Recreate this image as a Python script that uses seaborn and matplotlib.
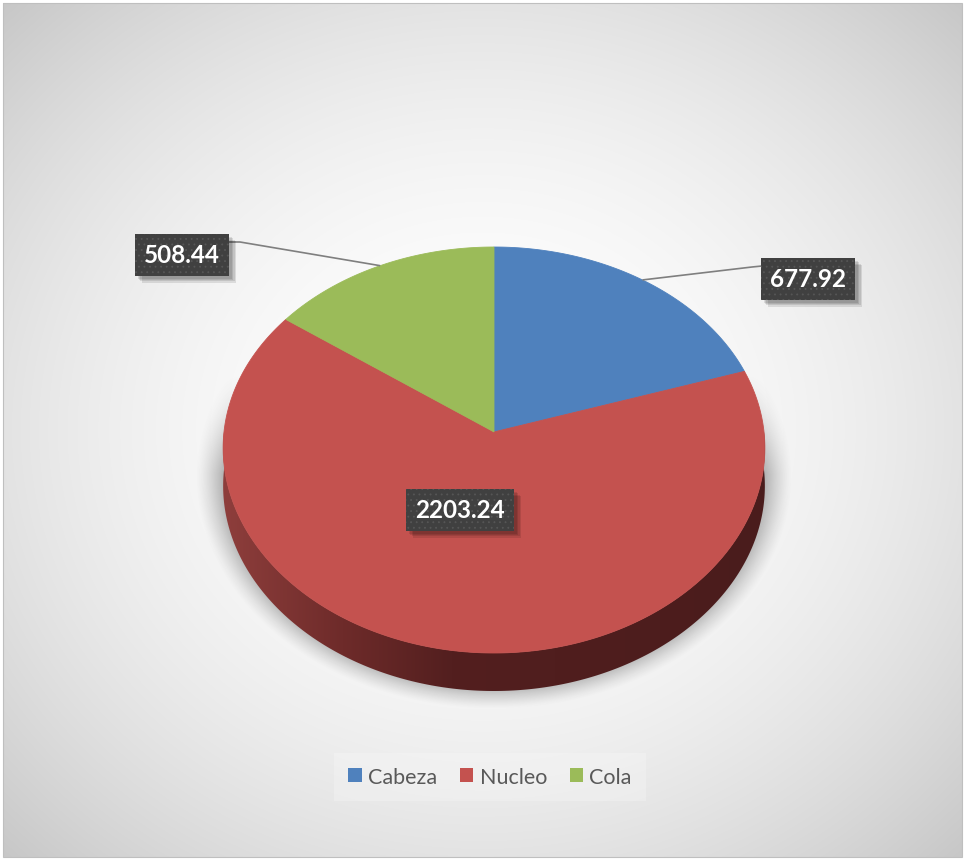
import numpy as np
import matplotlib
matplotlib.use("Agg")
import matplotlib.pyplot as plt
import matplotlib.transforms as mtransforms
import matplotlib.patheffects as pe
from matplotlib.path import Path
from matplotlib.patches import Patch, Polygon, Rectangle
from matplotlib.colors import LinearSegmentedColormap
import seaborn as sns

# ---- data -------------------------------------------------------------
categories = ["Cabeza", "Nucleo", "Cola"]
values = [677.92, 2203.24, 508.44]
slice_colors = ["#4f81bd", "#c4524f", "#9bbb59"]
value_labels = [f"{v:.2f}" for v in values]

# ---- canvas / disc geometry (pixel units) ----------------------------
W, H = 964, 862
CX, CY, RX, RY = 494.0, 451.0, 270.0, 203.0
DEPTH = 38.0        # thickness of the extruded side
TILT = -0.089       # pulls the apex toward the far rim (perspective)
TAPER = 0.08        # far rim drawn slightly narrower


class TiltedDisc(mtransforms.Transform):
    """Maps the unit pie disc onto a tilted disc seen in perspective."""
    input_dims = output_dims = 2
    is_separable = False
    has_inverse = False

    def transform_non_affine(self, xy):
        xy = np.asarray(xy, float).reshape(-1, 2)
        u, w = xy[:, 0], -xy[:, 1]
        x = CX + RX * u * (1 + TAPER * w)
        y = CY + RY * (w + TILT) / (1 + TILT * w)
        return np.column_stack([x, y])

    def transform_path_non_affine(self, path):
        verts, codes = [], []
        for seg, code in path.iter_bezier(simplify=False):
            if code == Path.MOVETO:
                pts = seg.control_points[:1]
                codes.append(Path.MOVETO)
            else:
                pts = seg(np.linspace(0, 1, 41)[1:])
                codes.extend([Path.LINETO] * len(pts))
            verts.append(pts)
        verts = np.concatenate(verts)
        return Path(self.transform_non_affine(verts), codes)


class SoftBoxShadow(pe.AbstractPathEffect):
    """Blurred-looking drop shadow (stacked translucent offsets, no hatch)."""

    def __init__(self, steps=((2, -2), (3, -3), (4, -4), (5, -5)), alpha=0.1):
        super().__init__()
        self._steps = steps
        self._alpha = alpha

    def draw_path(self, renderer, gc, tpath, affine, rgbFace=None):
        for dx, dy in self._steps:
            gc0 = renderer.new_gc()
            gc0.copy_properties(gc)
            gc0.set_hatch(None)
            gc0.set_linewidth(0)
            gc0.set_alpha(self._alpha)
            off = mtransforms.Affine2D().translate(
                renderer.points_to_pixels(dx), renderer.points_to_pixels(dy))
            renderer.draw_path(gc0, tpath, affine + off, (0, 0, 0))
            gc0.restore()


sns.set_theme(style="white")
plt.rcParams["font.family"] = ["Lato", "DejaVu Sans"]
plt.rcParams["hatch.linewidth"] = 0.6
palette = sns.color_palette(slice_colors)

fig = plt.figure(figsize=(W / 100, H / 100), dpi=100)
fig.patch.set_facecolor("white")
ax = fig.add_axes([0, 0, 1, 1])
ax.set_axis_off()

yy, xx = np.mgrid[0:H, 0:W] + 0.5

# chart-area background: radial grey gradient
fx0, fy0, fx1, fy1 = 3, 4, 962, 858
gcx, gcy = (fx0 + fx1) / 2, 431
r2 = (((xx - gcx) / (gcx - fx0)) ** 2 + ((yy - gcy) / (gcy - fy0)) ** 2) / 2
bg = np.clip(1 - 0.22 * r2, 0, 1)
bg_img = ax.imshow(np.dstack([bg, bg, bg]), extent=[0, W, H, 0],
                   aspect="auto", zorder=0, interpolation="bilinear")
frame = Rectangle((fx0, fy0), fx1 - fx0, fy1 - fy0, fill=False,
                  edgecolor="#bfbfbf", linewidth=0.8, zorder=0.5)
ax.add_patch(frame)
bg_img.set_clip_path(frame)

# soft shadow behind the disc
rs = np.sqrt(((xx - CX) / (RX + 28)) ** 2 + ((yy - (CY + 26)) / (RY + 30)) ** 2)
shade = np.clip((1.0 - rs) / 0.10, 0, 1) ** 1.3 * np.clip((yy - 375) / 100, 0, 1)
shadow = np.zeros((H, W, 4))
shadow[..., :3] = 0.38
shadow[..., 3] = 0.5 * shade
ax.imshow(shadow, extent=[0, W, H, 0], aspect="auto", zorder=1,
          interpolation="bilinear")

# ---- pie top face ----------------------------------------------------
wedges, _ = ax.pie(values, colors=palette, startangle=90, counterclock=False,
                   radius=1.0, center=(0, 0),
                   wedgeprops=dict(linewidth=0.6))
tilt = TiltedDisc()
for wdg, col in zip(wedges, palette):
    wdg.set_edgecolor(col)
    wdg.set_transform(tilt + ax.transData)
    wdg.set_zorder(3)

# ---- extruded side wall (front half of the disc) ---------------------
th = np.linspace(np.pi, 2 * np.pi, 300)
rim = tilt.transform_non_affine(np.column_stack([np.cos(th), np.sin(th)]))
low = rim + np.array([0, DEPTH])
wall = Polygon(np.vstack([rim, low[::-1]]), closed=True, facecolor="none",
               edgecolor="none", zorder=2)
ax.add_patch(wall)
wall_cmap = LinearSegmentedColormap.from_list(
    "wall", [(0.0, "#8e3e3c"), (0.22, "#6e2b2a"), (0.42, "#531f1f"),
             (1.0, "#4a1c1c")])
xmin, xmax = rim[:, 0].min(), rim[:, 0].max()
grad = ax.imshow(np.linspace(0, 1, 256)[None, :], cmap=wall_cmap,
                 extent=[xmin, xmax, low[:, 1].max() + 2, rim[:, 1].min() - 2],
                 aspect="auto", zorder=2, interpolation="bilinear")
grad.set_clip_path(wall)

# ---- data labels -----------------------------------------------------
def rim_point(wdg):
    mid = np.deg2rad((wdg.theta1 + wdg.theta2) / 2)
    return tilt.transform_non_affine([[np.cos(mid), np.sin(mid)]])[0]

label_pos = [(808, 280), (460, 511), (182, 256)]
leader_elbow = [[(752, 268), (762, 267)], None, [(240, 243), (229, 243)]]

for wdg, txt, pos, elbow in zip(wedges, value_labels, label_pos, leader_elbow):
    if elbow is not None:
        p0 = rim_point(wdg)
        pts = np.vstack([p0, elbow])
        ax.plot(pts[:, 0], pts[:, 1], color="#7f7f7f", lw=1.2, zorder=4,
                solid_capstyle="butt")
    t = ax.text(pos[0], pos[1], txt, ha="center", va="center", fontsize=17.5,
                fontweight="bold", color="white", zorder=5,
                bbox=dict(boxstyle="square,pad=0.38", facecolor="#404040",
                          edgecolor="#565656", linewidth=0, hatch="..."))
    t.get_bbox_patch().set_path_effects([SoftBoxShadow(), pe.Normal()])

# ---- legend ----------------------------------------------------------
handles = [Patch(facecolor=c, edgecolor="none", label=n)
           for n, c in zip(categories, palette)]
leg = ax.legend(handles=handles, loc="center",
                bbox_to_anchor=(490 / W, 1 - 778 / H), ncol=3, fontsize=15.5,
                frameon=True, handlelength=0.62, handleheight=0.62,
                handletextpad=0.3, columnspacing=1.05, borderpad=0.35,
                labelcolor="#595959", borderaxespad=0)
fr = leg.get_frame()
fr.set_boxstyle("square")
fr.set_facecolor("white")
fr.set_alpha(0.22)
fr.set_edgecolor("none")
leg.set_zorder(6)

ax.set_aspect("auto")
ax.set_xlim(0, W)
ax.set_ylim(H, 0)

fig.savefig("out.png", dpi=100, facecolor="white")
